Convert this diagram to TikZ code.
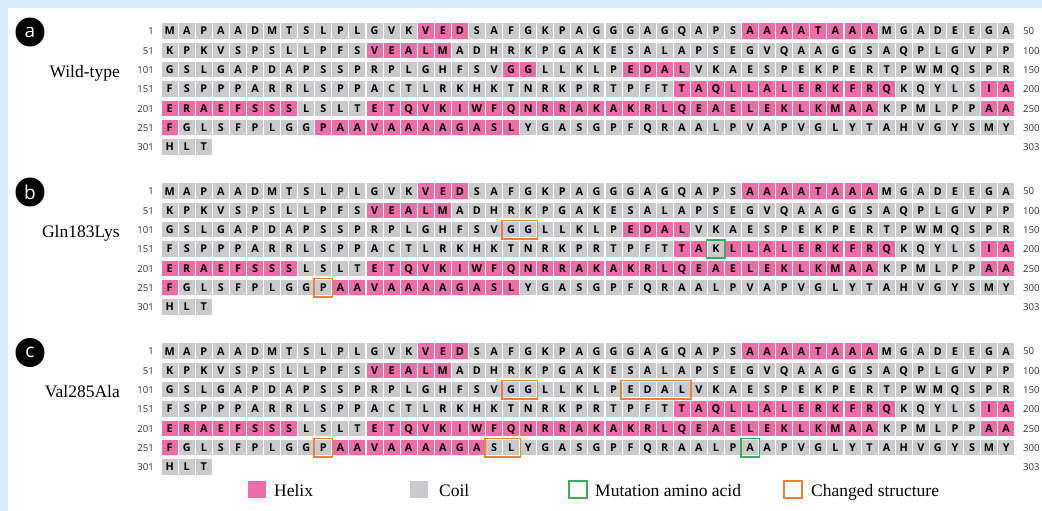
\documentclass[tikz,border=0pt]{standalone}
\usepackage{fontspec}
\setmainfont{Liberation Serif}
\newfontfamily\cellfont{Open Sans}
\definecolor{bgblue}{RGB}{214,236,249}
\definecolor{helixpink}{RGB}{238,108,168}
\definecolor{coilgray}{RGB}{202,202,204}
\definecolor{mutgreen}{RGB}{60,172,92}
\definecolor{chgorange}{RGB}{234,130,60}
\definecolor{numgray}{RGB}{50,50,50}
\def\seqlist{M,A,P,A,A,D,M,T,S,L,P,L,G,V,K,V,E,D,S,A,F,G,K,P,A,G,G,G,A,G,Q,A,P,S,A,A,A,A,T,A,A,A,M,G,A,D,E,E,G,A,%
K,P,K,V,S,P,S,L,L,P,F,S,V,E,A,L,M,A,D,H,R,K,P,G,A,K,E,S,A,L,A,P,S,E,G,V,Q,A,A,G,G,S,A,Q,P,L,G,V,P,P,%
G,S,L,G,A,P,D,A,P,S,S,P,R,P,L,G,H,F,S,V,G,G,L,L,K,L,P,E,D,A,L,V,K,A,E,S,P,E,K,P,E,R,T,P,W,M,Q,S,P,R,%
F,S,P,P,P,A,R,R,L,S,P,P,A,C,T,L,R,K,H,K,T,N,R,K,P,R,T,P,F,T,T,A,Q,L,L,A,L,E,R,K,F,R,Q,K,Q,Y,L,S,I,A,%
E,R,A,E,F,S,S,S,L,S,L,T,E,T,Q,V,K,I,W,F,Q,N,R,R,A,K,A,K,R,L,Q,E,A,E,L,E,K,L,K,M,A,A,K,P,M,L,P,P,A,A,%
F,G,L,S,F,P,L,G,G,P,A,A,V,A,A,A,A,G,A,S,L,Y,G,A,S,G,P,F,Q,R,A,A,L,P,V,A,P,V,G,L,Y,T,A,H,V,G,Y,S,M,Y,%
H,L,T}
\newcommand\mycellpos[2]{%
  \pgfmathsetmacro\cl{161.7+17.07*mod(#2-1,50)}%
  \pgfmathsetmacro\ct{23.3+160*#1+19.33*floor((#2-1)/50)}}
\newcommand\helixcells[2]{%
  \foreach \a/\b in {#2}{\foreach \i in {\a,...,\b}{%
    \mycellpos{#1}{\i}\fill[helixcell] (\cl,\ct) rectangle ++(16,15.5);}}}
\newcommand\markbox[4]{%
  \mycellpos{#1}{#2}\let\mybl\cl
  \mycellpos{#1}{#3}%
  \draw[#4] (\mybl-1.3,\ct-1.3) rectangle (\cl+17.3,\ct+16.8);}
\begin{document}
\begin{tikzpicture}[x=1pt,y=-1pt,
  helixcell/.style={fill=helixpink},
  coilcell/.style={fill=coilgray},
  resi/.style={inner sep=0pt,anchor=base,font=\cellfont\bfseries\fontsize{10.8}{12}\selectfont,text=black},
  numl/.style={inner sep=0pt,anchor=base east,font=\cellfont\fontsize{9.6}{11}\selectfont,text=numgray},
  numr/.style={inner sep=0pt,anchor=base west,font=\cellfont\fontsize{9.6}{11}\selectfont,text=numgray},
  mutbox/.style={draw=mutgreen,line width=1.6pt},
  chgbox/.style={draw=chgorange,line width=1.6pt},
  panelmark/.style={circle,fill=black,minimum size=29pt,inner sep=0pt,text=white,font=\cellfont\fontsize{19}{20}\selectfont},
  variant/.style={inner sep=0pt,anchor=base east,font=\fontsize{17.5}{20}\selectfont},
  legtext/.style={inner sep=0pt,anchor=base west,font=\fontsize{17.5}{20}\selectfont}]
\useasboundingbox (0,0) rectangle (1042,511);
\fill[bgblue] (0,0) rectangle (1042,511);
\fill[white] (8,8) rectangle (1042,511);
% coil background cells
\foreach \p in {0,1,2}{
  \foreach \res [count=\i] in \seqlist {
    \mycellpos{\p}{\i}\fill[coilcell] (\cl,\ct) rectangle ++(16,15.5);
  }
}
% helix cells
\helixcells{0}{16/18,35/42,63/67,121/122,128/131,181/193,199/208,213/242,249/251,260/271}
\helixcells{1}{16/18,35/42,63/67,128/131,181/182,184/193,199/208,213/242,249/251,261/271}
\helixcells{2}{16/18,35/42,63/67,181/193,199/208,213/242,249/251,261/269}
% residue letters
\foreach \p in {0,1,2}{
  \foreach \res [count=\i] in \seqlist {
    \mycellpos{\p}{\i}%
    \def\resX{\res}%
    \ifnum\p=1 \ifnum\i=183 \def\resX{K}\fi\fi
    \ifnum\p=2 \ifnum\i=285 \def\resX{A}\fi\fi
    \node[resi] (r\p-\i) at (\cl+8,\ct+11.7) {\resX};
  }
}
% row numbers
\foreach \p in {0,1,2}{
  \foreach \r/\ln/\rn in {0/1/50,1/51/100,2/101/150,3/151/200,4/201/250,5/251/300,6/301/303}{
    \pgfmathsetmacro\ct{23.3+160*\p+19.33*\r}
    \node[numl] (nl\p-\r) at (154,\ct+11.6) {\ln};
    \node[numr] (nr\p-\r) at (1023,\ct+11.6) {\rn};
  }
}
% boxes
\markbox{1}{121}{122}{chgbox}
\markbox{1}{260}{260}{chgbox}
\markbox{1}{183}{183}{mutbox}
\markbox{2}{121}{122}{chgbox}
\markbox{2}{128}{131}{chgbox}
\markbox{2}{260}{260}{chgbox}
\markbox{2}{270}{271}{chgbox}
\markbox{2}{285}{285}{mutbox}
% panel marks and labels
\node[panelmark] (pa) at (30,32) {a};
\node[panelmark] (pb) at (30,192) {b};
\node[panelmark] (pc) at (30,352.5) {c};
\node[variant] (va) at (120,77.5) {Wild-type};
\node[variant] (vb) at (120,237.5) {Gln183Lys};
\node[variant] (vc) at (120,397.5) {Val285Ala};
% legend
\fill[helixpink] (248,481) rectangle ++(18,17);
\node[legtext] (lh) at (274,496) {Helix};
\fill[coilgray] (410,481) rectangle ++(18,17);
\node[legtext] (lc) at (439,496) {Coil};
\draw[mutbox] (569,481) rectangle ++(18,17);
\node[legtext] (lm) at (595,496) {Mutation amino acid};
\draw[chgbox] (784,481) rectangle ++(18,17);
\node[legtext] (ls) at (811,496) {Changed structure};
\end{tikzpicture}
\end{document}
